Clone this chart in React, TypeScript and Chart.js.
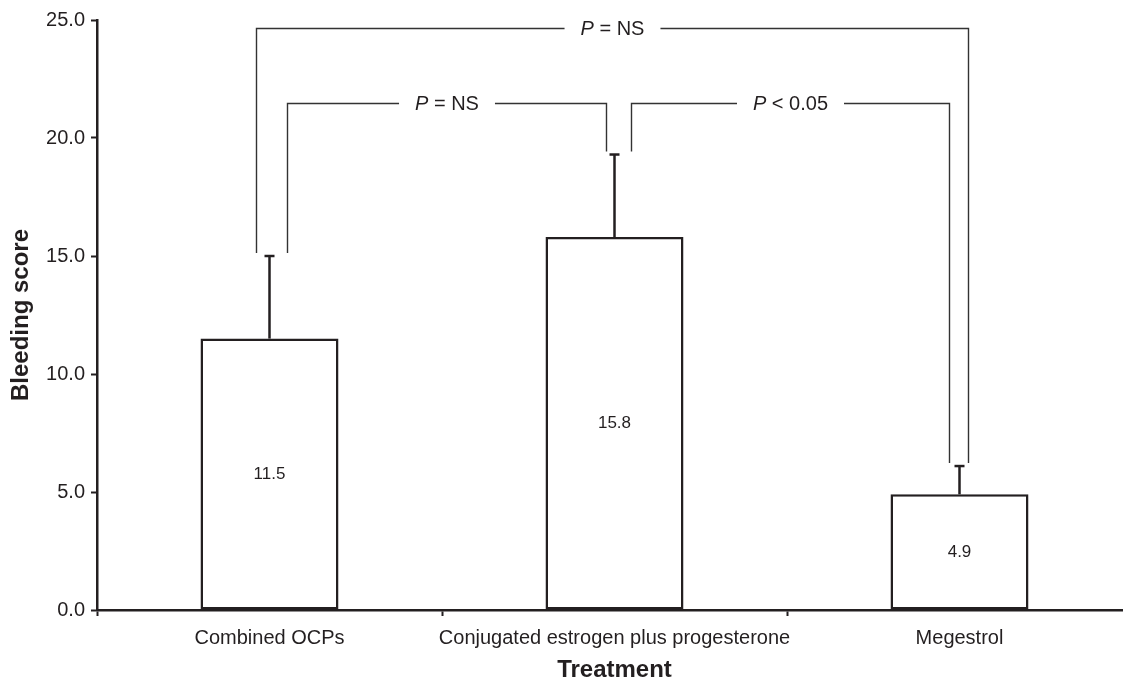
import { useEffect, useRef } from "react";
import { Chart, registerables } from "chart.js";

Chart.register(...registerables);

const categories = ["Combined OCPs", "Conjugated estrogen plus progesterone", "Megestrol"];
const meanScores = [11.5, 15.8, 4.9];
const errorUpper = [3.5, 3.5, 1.2];
const yMin = 0;
const yMax = 25;
const yStep = 5;

// Significance comparisons (group indices and the bracket level in score units)
const comparisonFrom = [0, 0, 1];
const comparisonTo = [2, 1, 2];
const comparisonLevel = [24.65, 21.5, 21.5];
const comparisonText = ["= NS", "= NS", "< 0.05"];

// styling for the bracket legs (pixel offsets from bar centres)
const legOffsetFrom = [-13, 18, 17];
const legOffsetTo = [9, -8, -10];

const ink = "#231f20";
const family = "'Liberation Sans', Arial, Helvetica, sans-serif";

const annotatePlugin = {
  id: "annotate",
  afterDatasetsDraw(chart: any) {
    const { ctx } = chart;
    const y = chart.scales.y;
    const meta = chart.getDatasetMeta(0);
    const centers: number[] = meta.data.map((b: any) => b.x);
    ctx.save();
    // error bars + values
    meanScores.forEach((v, i) => {
      const cx = centers[i];
      const top = y.getPixelForValue(v);
      const end = y.getPixelForValue(v + errorUpper[i]);
      ctx.strokeStyle = ink;
      ctx.lineWidth = 2.5;
      ctx.lineCap = "butt";
      ctx.beginPath();
      ctx.moveTo(cx, top);
      ctx.lineTo(cx, end);
      ctx.stroke();
      ctx.beginPath();
      ctx.moveTo(cx - 5, end);
      ctx.lineTo(cx + 5, end);
      ctx.stroke();
      ctx.fillStyle = ink;
      ctx.font = `17px ${family}`;
      ctx.textAlign = "center";
      ctx.textBaseline = "middle";
      ctx.fillText(v.toFixed(1), cx, (top + y.getPixelForValue(0)) / 2);
    });
    // brackets
    ctx.strokeStyle = "#333";
    ctx.lineWidth = 1.4;
    comparisonFrom.forEach((f, k) => {
      const t = comparisonTo[k];
      const x1 = centers[f] + legOffsetFrom[k];
      const x2 = centers[t] + legOffsetTo[k];
      const yl = Math.round(y.getPixelForValue(comparisonLevel[k])) + 0.5;
      const b1 = y.getPixelForValue(meanScores[f] + errorUpper[f]) - 3;
      const b2 = y.getPixelForValue(meanScores[t] + errorUpper[t]) - 3;
      ctx.font = `italic 20px ${family}`;
      const wP = ctx.measureText("P").width;
      ctx.font = `20px ${family}`;
      const rest = " " + comparisonText[k];
      const wR = ctx.measureText(rest).width;
      const w = wP + wR;
      const cx = (x1 + x2) / 2;
      const gap = 16;
      ctx.beginPath();
      ctx.moveTo(x1, b1);
      ctx.lineTo(x1, yl);
      ctx.lineTo(cx - w / 2 - gap, yl);
      ctx.moveTo(cx + w / 2 + gap, yl);
      ctx.lineTo(x2, yl);
      ctx.lineTo(x2, b2);
      ctx.stroke();
      ctx.fillStyle = ink;
      ctx.textAlign = "left";
      ctx.textBaseline = "middle";
      ctx.font = `italic 20px ${family}`;
      ctx.fillText("P", cx - w / 2, yl + 1);
      ctx.font = `20px ${family}`;
      ctx.fillText(rest, cx - w / 2 + wP, yl + 1);
    });
    ctx.restore();
  },
};

export default function App() {
  const ref = useRef<HTMLCanvasElement>(null);
  useEffect(() => {
    if (!ref.current) return;
    Chart.defaults.font.family = family;
    Chart.defaults.color = ink;
    const chart = new Chart(ref.current, {
      type: "bar",
      data: {
        labels: categories,
        datasets: [
          {
            data: meanScores,
            backgroundColor: "#ffffff",
            borderColor: ink,
            borderWidth: 2.5,
            borderSkipped: false,
            barPercentage: 0.4,
            categoryPercentage: 1,
          },
        ],
      },
      options: {
        animation: false,
        responsive: true,
        maintainAspectRatio: false,
        layout: { padding: { top: 20, left: 0, right: 0, bottom: 0 } },
        plugins: { legend: { display: false }, tooltip: { enabled: false } },
        scales: {
          x: {
            afterFit(scale: any) {
              scale.height = 76;
            },
            grid: {
              offset: true,
              drawOnChartArea: false,
              drawTicks: true,
              tickLength: 6,
              tickWidth: 2,
              tickColor: ink,
            },
            border: { display: true, color: ink, width: 2.5 },
            ticks: {
              font: { size: 20 },
              color: ink,
              padding: 10,
              maxRotation: 0,
              minRotation: 0,
              autoSkip: false,
            },
            title: {
              display: true,
              text: "Treatment",
              font: { size: 24, weight: "bold" },
              color: ink,
              padding: { top: 0, bottom: 1 },
            },
          },
          y: {
            min: yMin,
            max: yMax,
            afterFit(scale: any) {
              scale.width = 97;
            },
            grid: {
              drawOnChartArea: false,
              drawTicks: true,
              tickLength: 6,
              tickWidth: 2,
              tickColor: ink,
            },
            border: { display: true, color: ink, width: 2.5 },
            ticks: {
              stepSize: yStep,
              font: { size: 20 },
              color: ink,
              padding: 6,
              callback: (v: any) => Number(v).toFixed(1),
            },
            title: {
              display: true,
              text: "Bleeding score",
              font: { size: 24, weight: "bold" },
              color: ink,
              padding: { top: 7, bottom: 0 },
            },
          },
        },
      },
      plugins: [annotatePlugin],
    });
    return () => chart.destroy();
  }, []);
  return (
    <div
      style={{
        position: "fixed",
        left: 0,
        top: 0,
        width: 1123,
        height: 686,
        overflow: "hidden",
        background: "#fff",
      }}
    >
      <div style={{ position: "relative", width: 1132, height: 686 }}>
        <canvas ref={ref} />
      </div>
    </div>
  );
}
